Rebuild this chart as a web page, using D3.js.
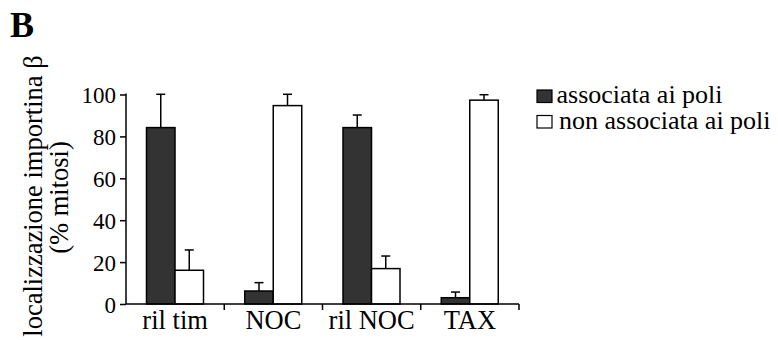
<!DOCTYPE html>
<html>
<head>
<meta charset="utf-8">
<title>localizzazione importina beta</title>
<script src="https://d3js.org/d3.v7.min.js"></script>
<style>
  body { margin: 0; background: #fff; }
</style>
</head>
<body>
<div id="chart"></div>
<script>
// data
var categories = ["ril tim", "NOC", "ril NOC", "TAX"];
var seriesNames = ["associata ai poli", "non associata ai poli"];
var associata = [84.2, 6.2, 84.2, 3.0];
var associataErr = [15.9, 4.0, 6.0, 2.7];
var nonAssociata = [16.1, 94.7, 16.9, 97.3];
var nonAssociataErr = [9.7, 5.4, 6.0, 2.6];
var yTicks = [0, 20, 40, 60, 80, 100];

var FONT = "'Liberation Serif', 'Times New Roman', Times, serif";

var W = 778, H = 340;
var svg = d3.select("#chart").append("svg").attr("width", W).attr("height", H)
  .style("font-family", FONT);

var x0 = 126, x1 = 519, yTop = 94.5, yBot = 304;

var x = d3.scaleBand().domain(categories).range([x0, x1]).padding(0);
var xs = d3.scaleBand().domain(seriesNames).range([20.5, 77.5]).padding(0);
var y = d3.scaleLinear().domain([0, 100]).range([yBot, yTop]);

var fills = { "associata ai poli": "#333333", "non associata ai poli": "#ffffff" };

var rows = categories.map(function(c, i) {
  return [
    { cat: c, s: seriesNames[0], v: associata[i], e: associataErr[i] },
    { cat: c, s: seriesNames[1], v: nonAssociata[i], e: nonAssociataErr[i] }
  ];
});

var groups = svg.selectAll("g.cat").data(rows).enter().append("g")
  .attr("class", "cat")
  .attr("transform", function(d) { return "translate(" + x(d[0].cat) + ",0)"; });

// error bars (only upward)
groups.selectAll("g.err").data(function(d) { return d; }).enter().append("g")
  .attr("class", "err")
  .each(function(d) {
    var g = d3.select(this);
    var cx = xs(d.s) + xs.bandwidth() / 2;
    g.append("line").attr("x1", cx).attr("x2", cx)
      .attr("y1", y(d.v)).attr("y2", y(d.v + d.e))
      .attr("stroke", "#000").attr("stroke-width", 1.5);
    g.append("line").attr("x1", cx - 4.5).attr("x2", cx + 4.5)
      .attr("y1", y(d.v + d.e)).attr("y2", y(d.v + d.e))
      .attr("stroke", "#000").attr("stroke-width", 1.5);
  });

groups.selectAll("rect").data(function(d) { return d; }).enter().append("rect")
  .attr("x", function(d) { return xs(d.s); })
  .attr("width", xs.bandwidth())
  .attr("y", function(d) { return y(d.v); })
  .attr("height", function(d) { return yBot - y(d.v); })
  .attr("fill", function(d) { return fills[d.s]; })
  .attr("stroke", "#000").attr("stroke-width", 1.5);

// y axis
var yAxis = svg.append("g").attr("transform", "translate(" + x0 + ",0)")
  .call(d3.axisLeft(y).tickValues(yTicks).tickSize(6).tickSizeOuter(0).tickPadding(4));
yAxis.attr("font-family", null).attr("font-size", null);
yAxis.select("path").attr("d", "M0," + (yTop - 1) + "V" + yBot);
yAxis.selectAll("line, path").attr("stroke", "#000").attr("stroke-width", 1.5);
yAxis.selectAll("text").attr("fill", "#000").attr("dy", "0.36em")
  .style("font-family", FONT).style("font-size", "23px");

// x axis: ticks at band boundaries
var boundaries = categories.map(function(c) { return x(c) + x.bandwidth(); });
var xAxisG = svg.append("g");
xAxisG.append("line").attr("x1", x0).attr("x2", x1).attr("y1", yBot).attr("y2", yBot)
  .attr("stroke", "#000").attr("stroke-width", 1.5);
xAxisG.selectAll("line.tk").data(boundaries).enter().append("line")
  .attr("class", "tk")
  .attr("x1", function(d) { return d; }).attr("x2", function(d) { return d; })
  .attr("y1", yBot).attr("y2", yBot + 6)
  .attr("stroke", "#000").attr("stroke-width", 1.5);
xAxisG.selectAll("text").data(categories).enter().append("text")
  .attr("x", function(d) { return x(d) + x.bandwidth() / 2; })
  .attr("y", 329)
  .attr("text-anchor", "middle")
  .style("font-size", "26.5px")
  .text(function(d) { return d; });

// y title
svg.append("text")
  .attr("transform", "translate(42,196) rotate(-90)")
  .attr("text-anchor", "middle")
  .style("font-size", "26.5px")
  .text("localizzazione importina β");
svg.append("text")
  .attr("transform", "translate(68,197.5) rotate(-90)")
  .attr("text-anchor", "middle")
  .style("font-size", "26.5px")
  .text("(% mitosi)");

// panel letter
svg.append("text").attr("x", 10).attr("y", 36.5)
  .style("font-size", "36px").style("font-weight", "bold").text("B");

// legend
var legend = svg.append("g").selectAll("g").data(seriesNames).enter().append("g")
  .attr("transform", function(d, i) { return "translate(537," + (90 + i * 25.5) + ")"; });
legend.append("rect").attr("width", 15).attr("height", 12.5)
  .attr("fill", function(d) { return fills[d]; })
  .attr("stroke", "#000").attr("stroke-width", 1.2);
legend.append("text").attr("x", function(d, i) { return i ? 22 : 19.5; }).attr("y", 13.3)
  .style("font-size", "26px")
  .text(function(d) { return d; });
</script>
</body>
</html>
